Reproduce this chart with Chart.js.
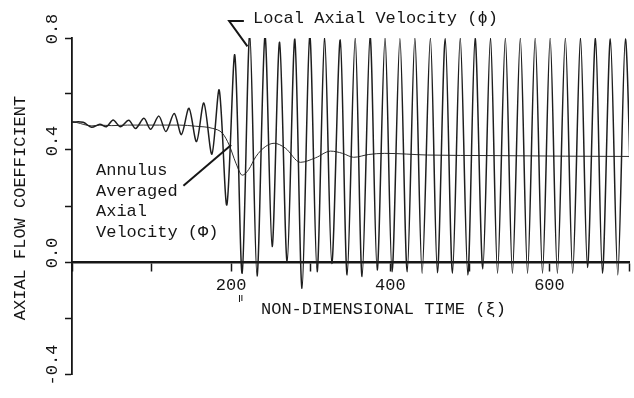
<!DOCTYPE html>
<html>
<head>
<meta charset="utf-8">
<script src="https://cdn.jsdelivr.net/npm/chart.js@4/dist/chart.umd.min.js"></script>
<style>
  html, body { margin: 0; padding: 0; background: #fff; }
  canvas { display: block; }
</style>
</head>
<body>
<canvas id="c" width="634" height="398"></canvas>
<script>
// Local axial velocity (phi): successive crests and troughs against non-dimensional time (xi)
const localXi = [
  0, 14, 24.6, 35, 43.3, 51.7, 60.8, 71.3, 80, 90.4, 98.8, 109.2, 118, 128.5, 137.5, 147,
  156.5, 165.7, 175.8, 185, 194.6, 204.6, 213.8, 223.4, 232.5, 242.5, 251.5, 260.9, 270.4, 280,
  289.1, 298.8, 308, 317.5, 326.5, 337.1, 345.8, 355.9, 364.6, 374.6, 383.5, 393.4, 402.2, 412.1,
  421.3, 430.9, 440, 450.4, 459.2, 469.1, 478.2, 487.9, 497.4, 506.6, 516.3, 525.9, 534.8, 544.6,
  553.5, 563.4, 572.5, 582.1, 591.3, 600.9, 610, 620, 629.2, 639.1, 647.8, 657.9, 666.6, 676.6,
  685.9, 695.4, 704.6
];
const localPhi = [
  0.500, 0.499, 0.481, 0.492, 0.483, 0.507, 0.483, 0.506, 0.477, 0.513, 0.474, 0.521, 0.466, 0.530, 0.455, 0.549,
  0.430, 0.568, 0.385, 0.614, 0.204, 0.739, -0.040, 0.813, -0.050, 0.807, 0.055, 0.785, 0.000, 0.796,
  -0.094, 0.808, -0.035, 0.801, -0.005, 0.793, -0.046, 0.800, -0.052, 0.805, -0.029, 0.800, -0.035, 0.798,
  -0.035, 0.800, -0.040, 0.800, -0.038, 0.798, -0.040, 0.800, -0.046, 0.798, -0.025, 0.800, -0.040, 0.800,
  -0.040, 0.800, -0.040, 0.800, -0.040, 0.800, -0.040, 0.800, -0.040, 0.800, -0.020, 0.798, -0.040, 0.796,
  -0.046, 0.796, -0.040
];

// Annulus averaged axial velocity (Phi)
const avgXi = [
  0, 6, 15, 25, 35, 50, 70, 90, 110, 135, 155, 177, 189, 197.5, 206, 214, 222, 231, 243, 254,
  268, 287, 306, 325, 340, 354, 373, 393, 447, 530, 620, 700
];
const avgPhi = [
  0.500, 0.498, 0.491, 0.486, 0.489, 0.487, 0.489, 0.489, 0.489, 0.489, 0.485, 0.477, 0.460, 0.418, 0.353, 0.310,
  0.330, 0.376, 0.412, 0.424, 0.407, 0.356, 0.372, 0.396, 0.388, 0.374, 0.384, 0.388, 0.382, 0.380, 0.378, 0.377
];

// Axis ticks and labels
const xTickValues = [200, 400, 600];
const xTickLabels = ['200', '400', '600'];
const yTickValues = [0.8, 0.4, 0.0, -0.4];
const yTickLabels = ['0.8', '0.4', '0.0', '-0.4'];

const INK = '#161616';
const FONT = '"Liberation Mono", "DejaVu Sans Mono", monospace';

function toPoints(xs, ys) {
  return xs.map((x, i) => ({ x: x, y: ys[i] }));
}

// Text, leader lines and rotated labels drawn on top of the plot
const annotations = {
  id: 'annotations',
  afterDraw(chart) {
    const ctx = chart.ctx;
    const xs = chart.scales.x;
    const ys = chart.scales.y;
    const px = v => xs.getPixelForValue(v);
    const py = v => ys.getPixelForValue(v);

    ctx.save();
    ctx.fillStyle = INK;
    ctx.strokeStyle = INK;
    ctx.font = '17px ' + FONT;

    // Rotated y tick labels
    ctx.textAlign = 'center';
    ctx.textBaseline = 'middle';
    yTickValues.forEach((v, i) => {
      ctx.save();
      ctx.translate(52, py(v) - 9);
      ctx.rotate(-Math.PI / 2);
      ctx.fillText(yTickLabels[i], 0, 0);
      ctx.restore();
    });

    // Y axis title
    ctx.save();
    ctx.translate(20, 208);
    ctx.rotate(-Math.PI / 2);
    ctx.fillText('AXIAL FLOW COEFFICIENT', 0, 0);
    ctx.restore();

    // X axis title
    ctx.textAlign = 'left';
    ctx.textBaseline = 'alphabetic';
    ctx.fillText('NON-DIMENSIONAL TIME (\u03BE)', 261, 314);

    // Local velocity label with its leader
    ctx.fillText('Local Axial Velocity (\u03D5)', 253, 22.5);
    ctx.lineWidth = 2;
    ctx.lineJoin = 'miter';
    ctx.beginPath();
    ctx.moveTo(px(216), 21);
    ctx.lineTo(px(197.5), 21);
    ctx.lineTo(px(220.5), py(0.77));
    ctx.stroke();

    // Annulus averaged label with its leader
    const lines = ['Annulus', 'Averaged', 'Axial', 'Velocity (\u03A6)'];
    lines.forEach((t, i) => ctx.fillText(t, 96, 175 + i * 20.7));
    ctx.beginPath();
    ctx.moveTo(px(140), py(0.272));
    ctx.lineTo(px(200), py(0.418));
    ctx.stroke();

    // Small onset marks under the time axis
    ctx.lineWidth = 1;
    ctx.beginPath();
    ctx.moveTo(px(210.5), 295); ctx.lineTo(px(210.5), 302);
    ctx.moveTo(px(213.5), 295); ctx.lineTo(px(213.5), 301);
    ctx.stroke();

    ctx.restore();
  }
};

new Chart(document.getElementById('c'), {
  type: 'line',
  data: {
    datasets: [
      {
        label: 'Local Axial Velocity',
        data: toPoints(localXi, localPhi),
        borderColor: '#1e1e1e',
        borderWidth: 1.5,
        pointRadius: 0,
        tension: 0.3,
        fill: false
      },
      {
        label: 'Annulus Averaged Axial Velocity',
        data: toPoints(avgXi, avgPhi),
        borderColor: '#2e2e2e',
        borderWidth: 1,
        pointRadius: 0,
        cubicInterpolationMode: 'monotone',
        fill: false
      }
    ]
  },
  options: {
    responsive: false,
    animation: false,
    devicePixelRatio: 1,
    layout: { padding: { left: 0, top: 38, right: 2, bottom: 24 } },
    plugins: { legend: { display: false }, tooltip: { enabled: false } },
    scales: {
      x: {
        type: 'linear',
        min: 0,
        max: 700,
        position: { y: 0 },
        border: { display: true, color: INK, width: 2.5 },
        grid: { drawOnChartArea: false, drawTicks: true, tickLength: 8, tickWidth: 1.5, tickColor: INK, color: INK },
        ticks: {
          stepSize: 100,
          padding: 5,
          maxRotation: 0,
          autoSkip: false,
          color: INK,
          font: { family: FONT, size: 17 },
          callback: v => {
            const i = xTickValues.indexOf(v);
            return i >= 0 ? xTickLabels[i] : '';
          }
        }
      },
      y: {
        type: 'linear',
        min: -0.4,
        max: 0.8,
        position: 'left',
        afterFit: s => { s.width = 72; },
        border: { display: true, color: INK, width: 1.8 },
        grid: { drawOnChartArea: false, drawTicks: true, tickLength: 7, tickWidth: 1.5, tickColor: INK, color: INK },
        ticks: { stepSize: 0.2, display: false }
      }
    }
  },
  plugins: [annotations]
});
</script>
</body>
</html>
